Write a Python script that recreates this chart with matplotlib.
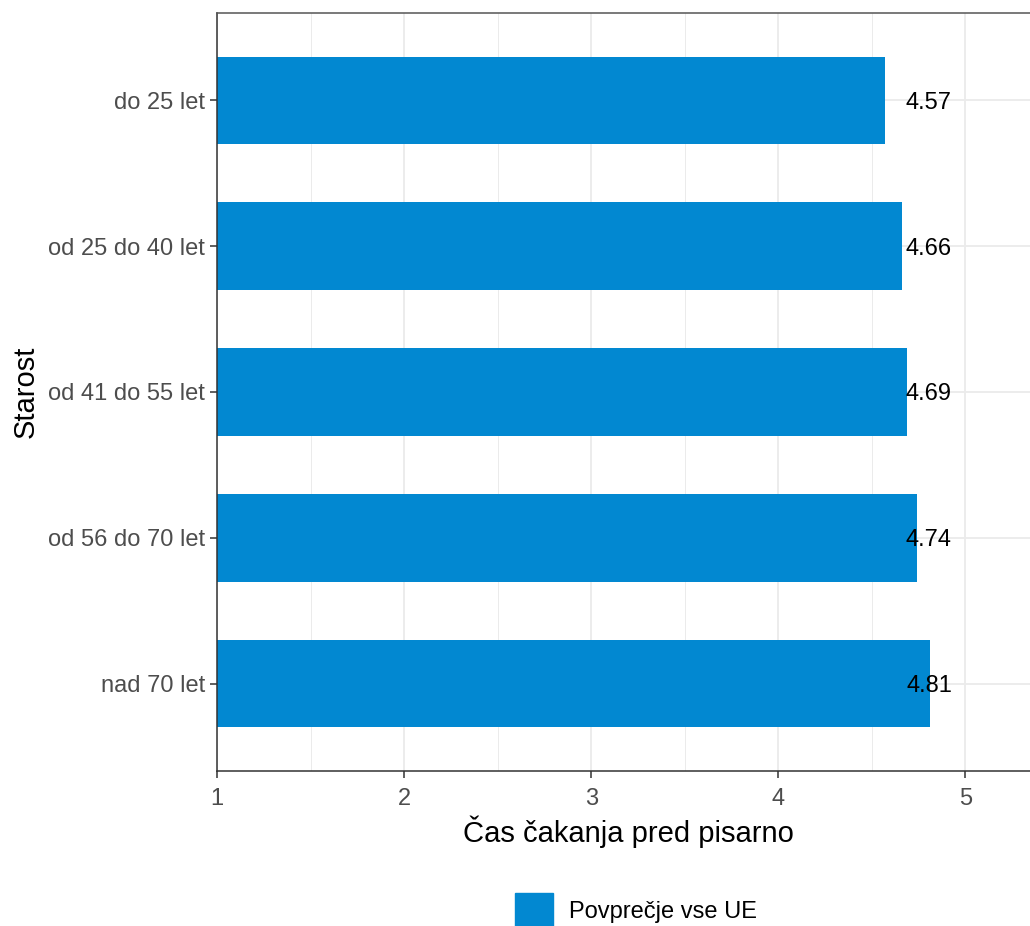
import matplotlib
matplotlib.use("Agg")
import matplotlib.pyplot as plt
from matplotlib.patches import Patch
from matplotlib.ticker import MultipleLocator

plt.rcParams['font.family'] = ['Liberation Sans', 'DejaVu Sans']

categories = ["do 25 let", "od 25 do 40 let", "od 41 do 55 let", "od 56 do 70 let", "nad 70 let"]
values = [4.57, 4.66, 4.69, 4.74, 4.81]
x_ticks = [1, 2, 3, 4, 5]
series_name = "Povprečje vse UE"
x_title = "Čas čakanja pred pisarno"
y_title = "Starost"

BAR_COLOR = "#0288d1"
LABEL_X = 4.805

W, H = 1030, 926
fig = plt.figure(figsize=(W / 100, H / 100), dpi=100)
ax = fig.add_axes([217 / W, 1 - 771 / H, (W - 217) / W + 0.01, (771 - 13) / H])

ypos = list(range(1, len(categories) + 1))
ax.barh(ypos, [v - 1 for v in values], left=1, height=0.6, color=BAR_COLOR, zorder=2)
for y, v in zip(ypos, values):
    ax.text(LABEL_X, y, f"{v:.2f}", ha="center", va="center_baseline", fontsize=17, color="black", zorder=3)

ax.set_xlim(1, 5.4)
ax.set_ylim(5.6, 0.4)
ax.set_yticks(ypos)
ax.set_yticklabels(categories)
ax.set_xticks(x_ticks)
ax.xaxis.set_minor_locator(MultipleLocator(0.5))
ax.tick_params(axis="both", which="major", labelsize=17, labelcolor="#4d4d4d", color="#333333", length=5, width=1.1)
ax.tick_params(axis="x", which="major", pad=7)
ax.tick_params(axis="x", which="minor", length=0)
ax.grid(True, which="major", color="#ebebeb", linewidth=1.3, zorder=0)
ax.grid(True, which="minor", axis="x", color="#ebebeb", linewidth=0.7, zorder=0)
ax.set_axisbelow(True)
for s in ["left", "bottom", "top"]:
    ax.spines[s].set_color("#333333")
    ax.spines[s].set_linewidth(1.1)
ax.spines["top"].set_color("#555555")
ax.spines["right"].set_visible(False)

ax.set_xlabel(x_title, fontsize=21, color="black", labelpad=4)
ax.set_ylabel(y_title, fontsize=21, color="black", labelpad=6)

handles = [Patch(facecolor=BAR_COLOR, edgecolor=BAR_COLOR)]
fig.legend(handles, [series_name], loc="center", bbox_to_anchor=(636 / W, 1 - 911 / H),
           frameon=False, fontsize=17, handlelength=1.61, handleheight=2.0, handletextpad=0.68)

fig.savefig("out.png", dpi=100)
